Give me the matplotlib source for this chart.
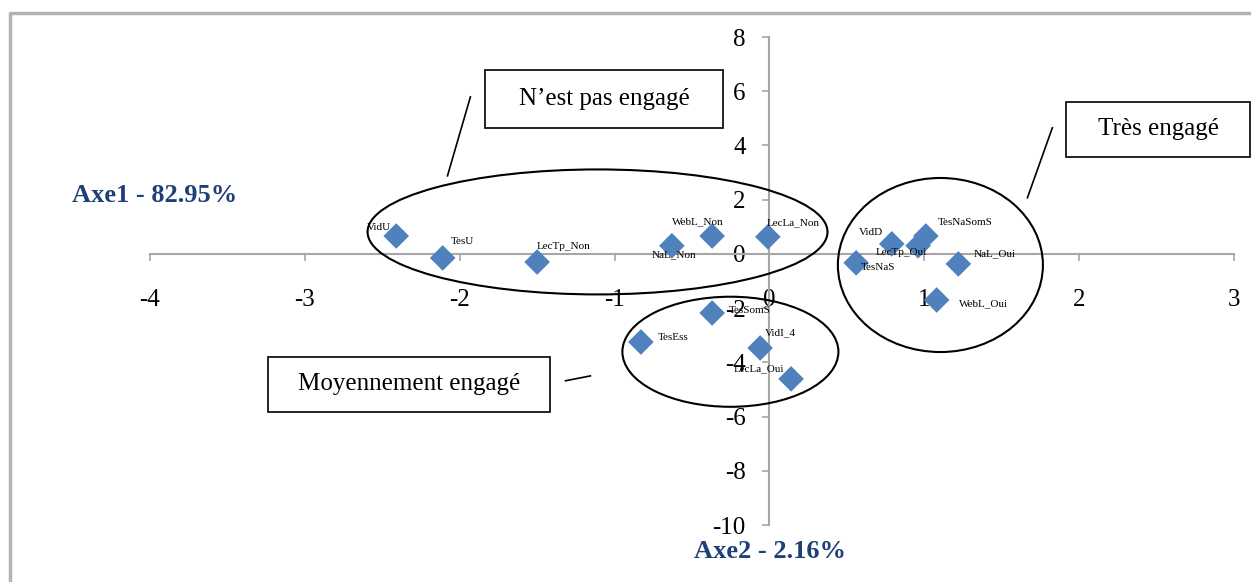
import matplotlib.pyplot as plt
from matplotlib.patches import Ellipse, Rectangle

# modalities (coordinates on Axe1 / Axe2)
labels = ["VidU", "TesU", "LecTp_Non", "NaL_Non", "WebL_Non", "LecLa_Non",
          "VidD", "TesNaSomS", "LecTp_Oui", "TesNaS", "NaL_Oui", "WebL_Oui",
          "TesSomS", "TesEss", "VidI_4", "LecLa_Oui"]
axe1 = [-2.41, -2.11, -1.50, -0.63, -0.37, -0.01,
        0.79, 1.01, 0.96, 0.56, 1.22, 1.08,
        -0.37, -0.83, -0.06, 0.14]
axe2 = [0.66, -0.15, -0.30, 0.30, 0.66, 0.63,
        0.37, 0.66, 0.30, -0.33, -0.37, -1.70,
        -2.18, -3.25, -3.47, -4.61]

x_ticks = [-4, -3, -2, -1, 0, 1, 2, 3]
y_ticks = [-10, -8, -6, -4, -2, 0, 2, 4, 6, 8]

# label offsets in pixels (style only)
offsets = {"VidU": (-17, 8), "TesU": (20, 16), "LecTp_Non": (26, 16),
           "NaL_Non": (2, -9), "WebL_Non": (-14, 14), "LecLa_Non": (25, 14),
           "VidD": (-21, 11), "TesNaSomS": (39, 13), "LecTp_Oui": (-17, -7),
           "TesNaS": (22, -5), "NaL_Oui": (36, 10), "WebL_Oui": (47, -4),
           "TesSomS": (38, 2), "TesEss": (32, 5), "VidI_4": (20, 15),
           "LecLa_Oui": (-32, 10)}

plt.rcParams['font.family'] = ['Liberation Serif', 'DejaVu Serif']
plt.rcParams['axes.unicode_minus'] = False
grey = '#a6a6a6'

fig = plt.figure(figsize=(12.51, 5.82), dpi=100)
ax = fig.add_axes([150/1251, 57/582, 1084/1251, 488/582])

ax.scatter(axe1, axe2, marker='D', s=170, color='#4f81bd', edgecolor='none', zorder=3)
for name, x, y in zip(labels, axe1, axe2):
    ax.annotate(name, (x, y), xytext=offsets[name], textcoords='offset pixels',
                ha='center', va='center', fontsize=8)

ax.set_xlim(-4, 3)
ax.set_ylim(-10, 8)
ax.set_xticks(x_ticks)
ax.set_yticks(y_ticks)
ax.spines['left'].set_position(('data', 0))
ax.spines['bottom'].set_position(('data', 0))
ax.spines['right'].set_visible(False)
ax.spines['top'].set_visible(False)
for s in ['left', 'bottom']:
    ax.spines[s].set_color(grey)
    ax.spines[s].set_linewidth(1.5)
ax.tick_params(axis='x', direction='out', length=5, width=1.2, color=grey,
               pad=20, labelsize=18)
ax.tick_params(axis='y', direction='out', length=5, width=1.2, color=grey,
               pad=12, labelsize=18)

# groups
ax.add_patch(Ellipse((-1.11, 0.81), 2.97, 4.61, fill=False, lw=1.5, color='black', zorder=4))
ax.add_patch(Ellipse((1.104, -0.41), 1.324, 6.42, fill=False, lw=1.5, color='black', zorder=4))
ax.add_patch(Ellipse((-0.252, -3.61), 1.395, 4.06, fill=False, lw=1.5, color='black', zorder=4))

boxes = [((-1.834, 4.65), 1.537, 2.14, "N\u2019est pas engagé"),
         ((1.918, 3.58), 1.188, 2.03, "Très engagé"),
         ((-3.235, -5.83), 1.821, 2.03, "Moyennement engagé")]
for (bx, by), w, h, txt in boxes:
    ax.add_patch(Rectangle((bx, by), w, h, fill=False, lw=1.2, color='black',
                           clip_on=False, zorder=4))
    ax.text(bx + w / 2, by + h / 2, txt, ha='center', va='center', fontsize=18,
            clip_on=False)

ax.plot([-1.931, -2.079], [5.79, 2.88], color='black', lw=1.2)
ax.plot([1.827, 1.666], [4.65, 2.07], color='black', lw=1.2)
ax.plot([-1.317, -1.156], [-4.68, -4.50], color='black', lw=1.2)

fig.text(155/1251, 1 - 196/582, "Axe1 - 82.95%", ha='center', va='center',
         fontsize=19, fontweight='bold', color='#1f3f77')
fig.text(770/1251, 1 - 552/582, "Axe2 - 2.16%", ha='center', va='center',
         fontsize=19, fontweight='bold', color='#1f3f77')

# outer frame
fig.add_artist(plt.Line2D([10/1251, 10/1251, 1], [0, 1 - 13/582, 1 - 13/582],
                          color='#b3b3b3', lw=2.5))

fig.savefig('out.png', dpi=100)
